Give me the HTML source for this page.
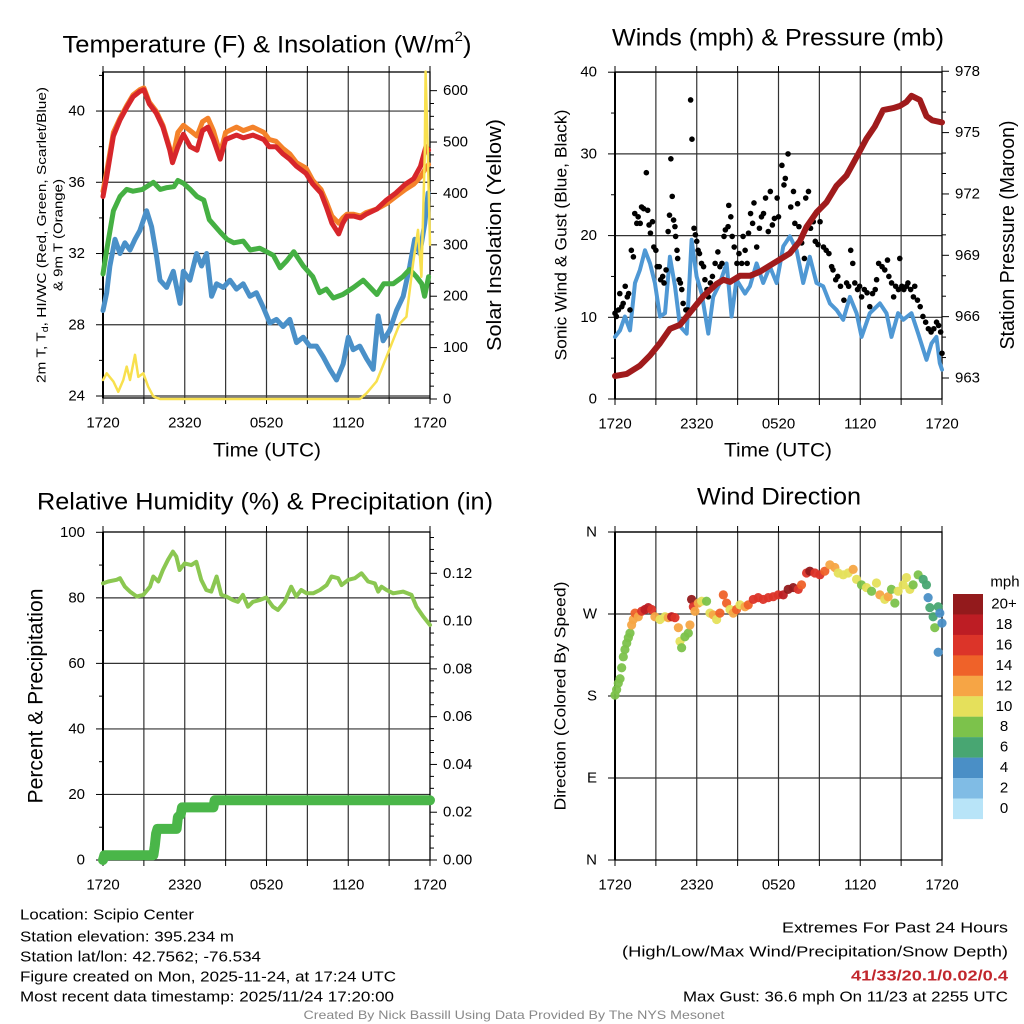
<!DOCTYPE html>
<html><head><meta charset="utf-8"><style>
html,body{margin:0;padding:0;background:#fff;}
svg{display:block;font-family:"Liberation Sans",sans-serif;}
</style></head><body>
<svg id="fig" width="1024" height="1024" viewBox="0 0 1024 1024" xmlns="http://www.w3.org/2000/svg"></svg>
<script>
// ---------- DATA ----------
const timeTickLabels = ["1720","2320","0520","1120","1720"];
// Panel 1: temperatures (F) and insolation
const tempHours = [0,0.27,0.76,1.25,1.74,2.2,2.7,3.0,3.4,3.9,4.4,4.9,5.1,5.5,5.9,6.4,6.9,7.3,7.7,8.1,8.6,9.0,9.8,10.3,11.0,11.8,12.2,12.7,13.2,13.7,14.2,14.9,15.4,16.0,16.4,16.8,17.3,17.6,17.9,18.4,18.9,19.3,20.1,20.8,21.5,22.2,22.8,23.3,23.7,23.9];
const redTemp = [35.2,36.3,38.6,39.5,40.2,40.8,41.1,41.2,40.4,39.9,39.1,37.8,37.1,38.0,38.7,38.0,37.8,38.9,39.1,38.4,37.3,38.4,38.65,38.5,38.65,38.4,38.0,38.0,37.6,37.3,36.9,36.5,35.9,35.4,34.6,33.7,33.1,33.7,34.1,34.1,34.0,34.2,34.5,35.0,35.4,35.9,36.2,36.9,38.0,37.8];
const orangeTemp = [35.5,36.6,38.8,39.6,40.3,40.9,41.2,41.3,40.5,40.0,39.2,37.9,37.3,38.8,39.2,38.9,38.6,39.4,39.6,38.9,37.6,38.8,39.1,38.9,39.1,38.8,38.4,38.3,37.9,37.6,37.1,36.8,36.1,35.6,34.9,34.1,33.7,34.0,34.2,34.2,34.1,34.3,34.5,34.8,35.2,35.6,35.9,36.3,36.8,37.0];
const dewHours = [0,0.27,0.76,1.25,1.74,2.2,2.9,3.7,4.2,4.7,5.2,5.5,5.9,6.4,6.9,7.4,7.8,8.6,9.1,9.6,10.3,10.8,11.5,12.0,12.5,13.0,13.5,14.0,14.7,15.4,15.9,16.4,16.9,17.6,18.4,19.1,19.6,20.1,20.6,21.3,22.0,22.5,23.0,23.4,23.6,23.9];
const dewTemp = [30.85,32.2,34.4,35.2,35.6,35.5,35.6,36.0,35.6,35.7,35.75,36.1,35.95,35.6,35.2,35.0,33.9,33.2,32.8,32.6,32.7,32.2,32.3,32.1,31.9,31.2,31.6,32.1,31.3,30.7,29.8,30.0,29.5,29.7,30.1,30.5,30.1,29.7,30.3,30.3,30.7,31.1,30.7,30.3,29.6,30.7];
const chillHours = [0,0.27,0.51,0.88,1.25,1.61,1.98,2.35,2.71,3.2,3.57,3.94,4.18,4.67,5.16,5.65,5.89,6.38,6.87,7.24,7.6,7.97,8.34,8.83,9.32,9.8,10.29,10.78,11.26,11.75,12.24,12.73,13.22,13.71,14.2,14.69,15.18,15.67,16.16,16.65,17.14,17.63,18.0,18.36,18.85,19.34,19.83,20.2,20.56,21.05,21.54,22.03,22.52,22.88,23.25,23.62,23.86];
const chillTemp = [28.8,29.8,31.3,32.8,32.0,32.6,32.2,32.8,33.3,34.4,33.5,31.8,30.5,30.1,31.0,29.2,31.0,30.5,32.0,31.3,32.0,29.6,30.3,30.1,30.5,30.0,30.3,29.6,29.8,29.0,28.1,28.3,27.9,28.3,27.0,27.3,26.8,26.8,26.2,25.5,24.9,25.8,27.3,26.6,26.8,26.1,25.5,28.5,27.1,27.7,28.8,29.6,31.3,32.8,32.0,33.7,35.4];
const solarHours = [0,0.27,0.76,1.12,1.49,1.74,1.98,2.35,2.59,2.96,3.32,3.69,4.18,5,8,12,16,18.85,19.34,20.07,20.81,21.3,21.78,22.27,22.76,23.12,23.37,23.61,23.68,23.86,24];
const solarValues = [37,50,34,14,37,63,37,86,43,50,24,5,0,0,0,0,0,0,11,34,82,115,147,160,264,329,238,471,637,458,300];
// Panel 2: winds and pressure
const pressHours = [0,0.86,1.83,2.57,3.3,4.03,4.77,5.5,6.48,7.46,7.95,8.44,9.17,9.9,10.64,11.37,12.1,12.84,13.57,14.06,14.79,15.53,16.26,16.99,17.73,18.46,19.07,19.68,20.42,20.9,21.39,21.76,22.37,22.86,23.28,24];
const pressValues = [963.1,963.2,963.6,964.1,964.7,965.4,965.6,966.2,967.0,967.6,967.8,967.7,968.0,968.0,968.2,968.5,968.8,969.1,969.7,970.4,971.1,971.6,972.4,972.9,973.8,974.7,975.3,976.1,976.2,976.3,976.5,976.8,976.6,975.8,975.6,975.5];
const windHours = [0,0.37,0.73,1.1,1.47,1.83,2.2,2.57,2.93,3.3,3.67,4.03,4.4,4.77,5.26,5.62,5.99,6.36,6.85,7.21,7.7,8.19,8.56,8.92,9.54,9.9,10.39,10.88,11.37,11.86,12.35,12.84,13.33,13.81,14.3,14.79,15.28,15.77,16.26,16.75,17.24,17.73,18.1,18.7,19.44,19.93,20.29,20.78,21.15,21.76,22.25,22.86,23.23,23.59,23.84,24];
const windValues = [7.6,8.4,10.1,8.4,14.2,15.8,18.2,16.6,14.2,10.1,10.5,17.4,13.8,8.9,8.0,19.5,15.0,12.9,8.0,12.5,14.2,16.6,10.1,14.6,12.9,13.8,16.6,14.2,16.2,14.2,18.7,19.9,18.2,14.2,17.4,14.2,13.8,11.7,10.9,9.7,12.5,10.5,7.6,10.5,11.7,10.5,7.6,10.5,9.7,10.5,8.0,4.8,6.8,7.6,4.4,3.6];
const gustHours = [0,0.1,0.25,0.35,0.5,0.6,0.75,0.9,1.0,1.1,1.2,1.35,1.45,1.6,1.7,1.85,1.95,2.1,2.3,2.4,2.5,2.6,2.75,2.85,3.0,3.1,3.25,3.35,3.5,3.6,3.75,3.9,4.0,4.1,4.2,4.3,4.4,4.45,4.55,4.6,4.7,4.8,4.9,5.0,5.2,5.35,5.55,5.65,5.8,5.9,6.0,6.1,6.2,6.35,6.5,6.6,6.75,6.85,7.0,7.15,7.35,7.55,7.7,7.85,8.0,8.1,8.3,8.35,8.5,8.6,8.75,8.95,9.1,9.3,9.4,9.55,9.7,9.8,9.95,10.1,10.2,10.4,10.6,10.75,10.9,11.05,11.25,11.4,11.55,11.7,11.9,12.0,12.25,12.4,12.5,12.7,12.9,13.1,13.2,13.4,13.5,13.7,13.9,14.0,14.2,14.35,14.55,14.7,14.9,15.05,15.3,15.5,15.7,15.9,16.0,16.2,16.35,16.55,16.8,17.0,17.15,17.3,17.45,17.6,17.8,17.95,18.1,18.3,18.5,18.7,18.9,19.1,19.2,19.35,19.6,19.8,20.0,20.1,20.3,20.45,20.6,20.8,20.9,21.05,21.2,21.4,21.5,21.7,21.9,22.0,22.2,22.4,22.6,22.8,23.0,23.2,23.4,23.6,23.75,23.9,24.0];
const gustValues = [10.5,10.1,10.9,12.9,11.3,11.7,13.8,12.5,12.9,10.9,18.2,17.4,22.7,21.5,22.3,21.5,23.5,23.3,27.7,23.1,21.3,20.3,21.7,18.6,18.2,16.2,16.2,14.6,15.0,14.2,15.8,20.5,22.5,29.4,24.8,21.9,21.1,19.9,18.2,17.2,14.6,14.2,13.4,11.7,10.9,10.9,36.6,31.8,20.9,20.1,19.3,18.2,17.8,16.6,16.2,14.6,13.4,12.5,14.2,15.0,16.6,18.0,16.2,16.6,19.9,20.7,21.1,23.7,22.3,19.9,18.6,16.6,17.8,16.6,19.9,18.2,16.6,20.3,22.7,21.5,24.0,18.6,20.9,22.3,22.7,24.6,20.5,25.4,21.3,22.1,24.6,22.3,28.6,26.2,27.0,30.0,23.5,25.4,21.5,23.9,21.1,19.1,17.2,24.6,25.4,20.9,21.7,19.3,18.9,21.7,18.6,18.2,17.8,16.2,15.8,14.6,15.0,13.8,12.1,14.2,13.8,18.2,16.6,14.2,13.4,13.8,12.5,13.4,13.0,11.3,12.9,13.4,14.6,16.6,16.2,15.8,17.0,15.0,14.2,12.5,13.8,13.4,17.2,13.8,13.4,13.8,14.2,13.4,12.5,13.8,12.1,11.3,10.1,9.4,8.6,8.2,8.6,9.4,9.0,8.2,5.6];
// Panel 3: RH and precipitation
const rhHours = [0,0.39,1.0,1.25,1.61,1.98,2.47,2.96,3.45,3.69,4.06,4.4,4.77,5.13,5.38,5.62,5.99,6.48,6.85,7.21,7.58,7.95,8.34,8.68,9.05,9.54,9.9,10.27,10.64,11.0,11.49,11.98,12.47,12.84,13.33,13.81,14.18,14.55,14.94,15.43,15.92,16.41,16.77,17.26,17.51,18.0,18.48,18.97,19.46,19.95,20.2,20.44,20.81,21.3,22.03,22.64,23.0,23.5,24];
const rhValues = [84.4,85,85.5,86,83.4,81.9,80.4,80.9,83.4,86.5,85,88.5,91.6,94.1,92.6,88.5,90.5,90,91,85.5,82.4,81.9,86.5,80.9,80.4,79.3,78.8,80.9,77.3,78.8,79.3,80.1,77.3,76.3,78.8,83.4,80.4,82.4,81.4,81.4,82.4,83.9,86.5,86,83.9,85.5,86,87.5,85,84.4,81.9,83.4,82.4,81.4,81.9,80.9,77.3,74.3,71.7];
const precipHours = [0,0.1,3.7,3.8,3.9,4.0,5.4,5.5,5.7,5.8,8.1,8.2,24];
const precipValues = [0.0,0.002,0.002,0.006,0.011,0.013,0.013,0.018,0.019,0.022,0.022,0.025,0.025];
// Panel 4: wind direction (deg) and speed (mph)
const dirHours = [0,0.12,0.24,0.37,0.49,0.61,0.73,0.86,0.98,1.10,1.22,1.34,1.47,1.71,1.96,2.20,2.44,2.69,2.93,3.30,3.67,3.91,4.16,4.40,4.65,4.77,4.89,5.13,5.38,5.50,5.62,5.75,5.87,6.11,6.36,6.72,6.97,7.21,7.46,7.70,7.95,8.19,8.44,8.68,8.92,9.17,9.54,9.78,10.15,10.51,10.88,11.25,11.61,11.98,12.35,12.71,13.08,13.45,13.69,14.06,14.30,14.67,15.04,15.40,15.77,16.14,16.38,16.75,17.11,17.48,17.73,18.09,18.46,18.83,19.19,19.44,19.80,20.05,20.29,20.54,20.78,21.15,21.39,21.64,21.88,22.25,22.62,22.86,22.98,23.11,23.35,23.47,23.72,23.84,23.72,24.0];
const dirValues = [181,187,194,199,211,223,231,238,244,249,258,264,271,267,273,275,277,275,267,264,267,266,267,266,255,240,233,245,249,258,286,278,273,282,284,284,271,269,264,271,291,282,275,271,275,280,278,280,286,288,286,288,289,291,291,297,299,297,302,315,317,315,313,317,324,321,315,313,315,319,308,302,299,295,304,291,286,289,297,282,295,302,310,297,302,313,308,302,288,277,267,255,278,271,228,260];
const dirSpeeds = [8,8,8,8,8,8,8,8,8,8,12,12,14,13,16,18,18,16,12,10,10,12,18,17,12,10,9,9,9,12,21,16,13,13,10,8,10,12,10,15,15,14,10,12,14,11,13,15,16,17,16,16,17,17,19,21,21,17,15,17,20,17,16,15,13,12,10,10,10,12,10,8,10,8,10,12,10,13,8,9,10,10,10,10,9,8,6,6,4,6,6,8,6,4,4,4];
const speedBinLabels = ["20+","18","16","14","12","10","8","6","4","2","0"];
const speedBinColors = ["#931a1c","#bd1d24","#dc3429","#ef6229","#f6a545","#e5e05b","#7cc24b","#48a672","#4a8fc6","#80bce5","#b8e4f8"];

// ---------- HELPERS ----------
const NS = "http://www.w3.org/2000/svg";
const svg = document.getElementById("fig");
function mk(tag, attrs, parent){ const e=document.createElementNS(NS,tag); for(const k in attrs) e.setAttribute(k,attrs[k]); (parent||svg).appendChild(e); return e; }
function txt(s, x, y, size, anchor, extra){ const t=mk("text",Object.assign({x:x,y:y,"font-size":size,"text-anchor":anchor||"middle","dominant-baseline":"central",fill:"#000"},extra||{})); t.textContent=s; return t; }
function xScale(P,h){ return P.x0 + h/24*(P.x1-P.x0); }
function polyline(P, hours, vals, yf, color, w, name){
  let d=""; for(let i=0;i<hours.length;i++){ d+=(i?"L":"M")+xScale(P,hours[i]).toFixed(1)+","+yf(vals[i]).toFixed(1); }
  const p=mk("path",{d:d,fill:"none",stroke:color,"stroke-width":w,"stroke-linejoin":"round","stroke-linecap":"round"});
  
  
  return p;
}
function frame(P, id, grids, leftTicks, rightTicks){
  const g=mk("g",{});
  
  
  for(let k=1;k<8;k++){ const x=xScale(P,k*3); mk("line",{x1:x,y1:P.y0,x2:x,y2:P.y1,stroke:"#333","stroke-width":1.2},g); }
  grids.forEach(y=>mk("line",{x1:P.x0,y1:y,x2:P.x1,y2:y,stroke:"#333","stroke-width":1.2},g));
  for(let k=0;k<=8;k++){ const x=xScale(P,k*3); mk("line",{x1:x,y1:P.y1,x2:x,y2:P.y1+6,stroke:"#000","stroke-width":1},g); mk("line",{x1:x,y1:P.y0,x2:x,y2:P.y0-6,stroke:"#000","stroke-width":1},g); }
  mk("rect",{x:P.x0,y:P.y0,width:P.x1-P.x0,height:P.y1-P.y0,fill:"none",stroke:"#000","stroke-width":1.3},g);
  mk("line",{x1:P.x0,y1:P.y0,x2:P.x0,y2:P.y1,stroke:"#000","stroke-width":2},g);
  leftTicks.forEach(t=>{ mk("line",{x1:P.x0-(t.minor?4:7),y1:t.y,x2:P.x0,y2:t.y,stroke:"#000","stroke-width":1},g); if(t.label!==undefined){ const e=txt(t.label,P.x0-18,t.y,15,"end");   } });
  rightTicks.forEach(t=>{ mk("line",{x1:P.x1,y1:t.y,x2:P.x1+(t.minor?4:7),y2:t.y,stroke:"#000","stroke-width":1},g); if(t.label!==undefined){ const e=txt(t.label,P.x1+13,t.y,15,"start");   } });
  timeTickLabels.forEach((s,i)=>{ const e=txt(s,xScale(P,i*6),P.y1+25,15,"middle");   });
}
function title(s,x,y,size,len,name){ const t=txt(s,x,y,size,"middle",{textLength:len,lengthAdjust:"spacingAndGlyphs"});   return t; }
function vtitle(s,x,y,size,len,name){ const t=txt(s,0,0,size,"middle",{textLength:len,lengthAdjust:"spacingAndGlyphs",transform:"translate("+x+","+y+") rotate(-90)"});   return t; }

// ---------- PANEL 1 ----------
const P1={x0:103,x1:430,y0:72,y1:398};
const yT=v=>396-(v-24)*17.81, yS=w=>399-w*0.5139;
{ const L=[],R=[],G=[];
  for(let v=24;v<=42;v++){ L.push(v%4===0?{y:yT(v),label:String(v)}:(v%2===0?{y:yT(v),minor:true}:null)); if(v%4===0) G.push(yT(v)); }
  for(let w=0;w<=600;w+=25){ R.push(w%100===0?{y:yS(w),label:String(w)}:{y:yS(w),minor:true}); }
  frame(P1,"temperature",G,L.filter(Boolean),R); }
polyline(P1,chillHours,chillTemp,yT,"#4a90c8",5,"windchill-line");
polyline(P1,dewHours,dewTemp,yT,"#45b043",5,"dewpoint-line");
polyline(P1,tempHours,orangeTemp,yT,"#f4822a",5,"9m-temp-line");
polyline(P1,tempHours,redTemp,yT,"#d7262b",5,"2m-temp-line");
polyline(P1,solarHours,solarValues,yS,"#f8e04e",2.5,"solar-insolation-line");
{ const t=txt("",267,45,24,"middle",{textLength:409,lengthAdjust:"spacingAndGlyphs"}); t.innerHTML='Temperature (F) &amp; Insolation (W/m<tspan font-size="14" dy="-9">2</tspan><tspan dy="9">)</tspan>';   }
title("Time (UTC)",267,451,19,108,"temperature-x-title");
{ const t=txt("",0,0,13,"middle",{transform:"translate(41,235) rotate(-90)",textLength:296,lengthAdjust:"spacingAndGlyphs"}); t.innerHTML='2m T, T<tspan font-size="9" dy="4">d</tspan><tspan dy="-4">, HI/WC (Red, Green, Scarlet/Blue)</tspan>';   }
vtitle("& 9m T (Orange)",58,235,13,112,"temperature-y-title-2");
vtitle("Solar Insolation (Yellow)",495,235,20,232,"solar-y-title");

// ---------- PANEL 2 ----------
const P2={x0:615,x1:942,y0:72,y1:399};
const yW=v=>399-v*8.17, yP=p=>378-(p-963)*20.45;
{ const L=[],R=[],G=[];
  for(let v=0;v<=40;v+=5){ L.push(v%10===0?{y:yW(v),label:String(v)}:{y:yW(v),minor:true}); if(v%10===0&&v>0&&v<40) G.push(yW(v)); }
  G.push(yW(40));
  for(let p=963;p<=978;p++){ R.push((p-963)%3===0?{y:yP(p),label:String(p)}:{y:yP(p),minor:true}); }
  frame(P2,"winds",G,L,R); }
polyline(P2,windHours,windValues,yW,"#4f98d4",4,"sonic-wind-line");
{ const g=mk("g",{});  
  for(let i=0;i<gustHours.length;i++){ const c=mk("circle",{cx:xScale(P2,gustHours[i]),cy:yW(gustValues[i]),r:2.8,fill:"#000"},g);
      } }
polyline(P2,pressHours,pressValues,yP,"#a01b1c",6,"pressure-line");
title("Winds (mph) & Pressure (mb)",778,38,24,332,"winds-title");
title("Time (UTC)",778,451,19,108,"winds-x-title");
vtitle("Sonic Wind & Gust (Blue, Black)",561,235,17,251,"wind-y-title");
vtitle("Station Pressure (Maroon)",1008,235,20,229,"pressure-y-title");

// ---------- PANEL 3 ----------
const P3={x0:103,x1:430,y0:532,y1:860};
const yR=v=>860-v*3.277, yPr=i=>860-i*2389;
{ const L=[],R=[],G=[];
  for(let v=0;v<=100;v+=10){ L.push(v%20===0?{y:yR(v),label:String(v)}:{y:yR(v),minor:true}); if(v%20===0&&v>0&&v<100) G.push(yR(v)); }
  for(let k=0;k<=27;k++){ const i=k*0.005; R.push(k%4===0?{y:yPr(i),label:i.toFixed(2)}:{y:yPr(i),minor:true}); }
  frame(P3,"humidity",G,L,R); }
polyline(P3,precipHours,precipValues,yPr,"#4ab649",10,"precipitation-line");
polyline(P3,rhHours,rhValues,yR,"#8bc751",4,"rh-line");
title("Relative Humidity (%) & Precipitation (in)",265,502,24,456,"humidity-title");
vtitle("Percent & Precipitation",36,696,21,215,"humidity-y-title");

// ---------- PANEL 4 ----------
const P4={x0:615,x1:942,y0:532,y1:860};
const yD=d=>860-d*0.9111;
const dirLabels=["N","E","S","W","N"];
{ const L=[],G=[];
  dirLabels.forEach((s,i)=>{ L.push({y:yD(i*90),label:s}); if(i>0&&i<4) G.push(yD(i*90)); });
  G.push(yD(360));
  frame(P4,"direction",G,L,[]); }
function speedColor(s){ let b=Math.min(10,Math.floor(s/2)); return speedBinColors[10-b]; }
{ const g=mk("g",{});  
  for(let i=0;i<dirHours.length;i++){ const c=mk("circle",{cx:xScale(P4,dirHours[i]),cy:yD(dirValues[i]),r:4.6,fill:speedColor(dirSpeeds[i]),"fill-opacity":0.95},g);
      } }
title("Wind Direction",779,497,24,164,"direction-title");
vtitle("Direction (Colored By Speed)",561,696,16,229,"direction-y-title");
{ const g=mk("g",{});  
  speedBinColors.forEach((c,i)=>{ const r=mk("rect",{x:953,y:594+i*20.45,width:30,height:20.6,fill:c},g);  
    const t=txt(speedBinLabels[i],1004,604+i*20.45,15,"middle");   });
  const m=txt("mph",1005,582,15,"middle");   }

// ---------- FOOTER ----------
const leftInfo=[["Location: Scipio Center",915,174],["Station elevation: 395.234 m",937,214],["Station lat/lon: 42.7562; -76.534",957,241],["Figure created on Mon, 2025-11-24, at 17:24 UTC",977,376],["Most recent data timestamp: 2025/11/24 17:20:00",997,374]];
leftInfo.forEach(l=>{ const t=txt(l[0],20,l[1],15,"start",{textLength:l[2],lengthAdjust:"spacingAndGlyphs"});   });
const rightInfo=[["Extremes For Past 24 Hours",928,226,"#000","normal"],["(High/Low/Max Wind/Precipitation/Snow Depth)",952,386,"#000","normal"],["41/33/20.1/0.02/0.4",976,157,"#c1272d","bold"],["Max Gust: 36.6 mph On 11/23 at 2255 UTC",997,325,"#000","normal"]];
rightInfo.forEach(l=>{ const t=txt(l[0],1008,l[1],15,"end",{textLength:l[2],lengthAdjust:"spacingAndGlyphs",fill:l[3],"font-weight":l[4]});   });
{ const t=txt("Created By Nick Bassill Using Data Provided By The NYS Mesonet",514,1015,12,"middle",{textLength:421,lengthAdjust:"spacingAndGlyphs",fill:"#888"});   }
</script>
</body></html>
